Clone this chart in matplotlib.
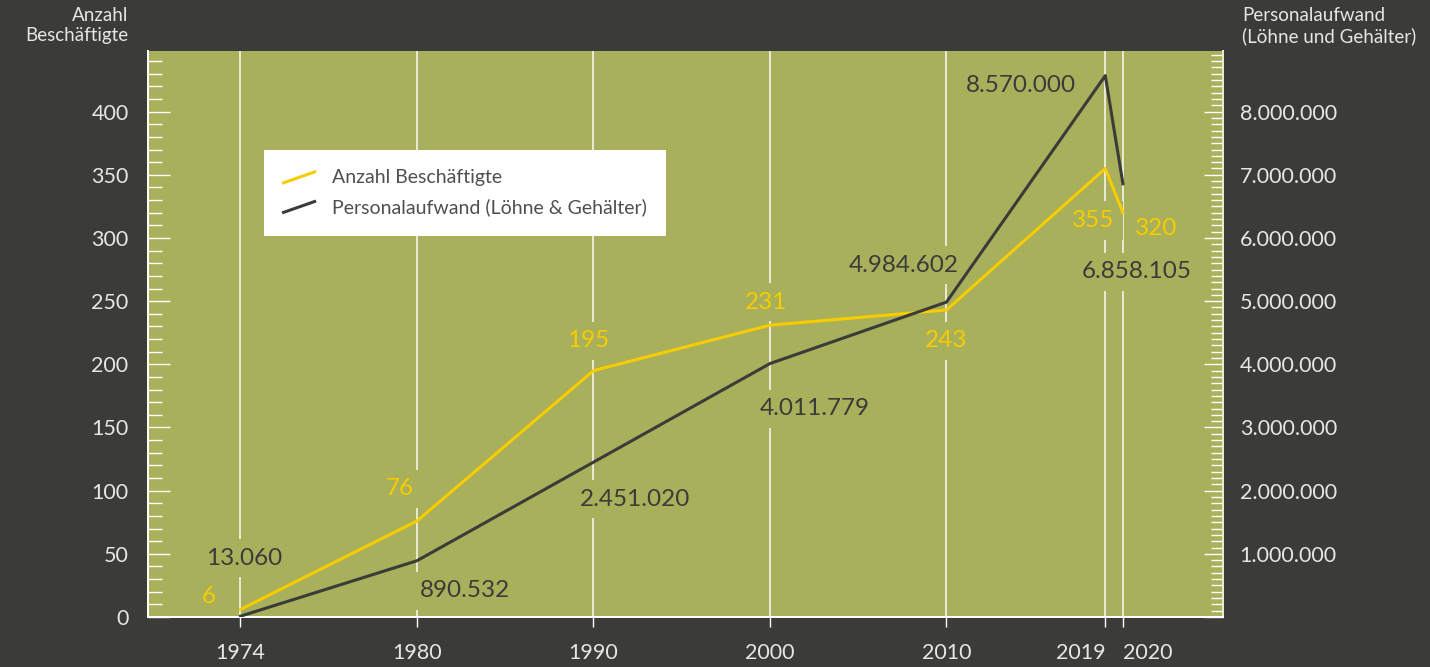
import matplotlib.pyplot as plt
from matplotlib.lines import Line2D
from matplotlib.legend_handler import HandlerLine2D
from matplotlib.ticker import MultipleLocator, FuncFormatter

# Data
years = [1974, 1980, 1990, 2000, 2010, 2019, 2020]
employees = [6, 76, 195, 231, 243, 355, 320]
personnel_cost = [13060, 890532, 2451020, 4011779, 4984602, 8570000, 6858105]

# 1974 sits one decade slot left of 1980 on the chart's time axis
x_pos = [1970, 1980, 1990, 2000, 2010, 2019, 2020]

# label offsets in pixels (dx, dy), hand placed like the original
emp_offsets = [(-32, 13), (-17, 32), (-5, 30), (-4, 23), (0, -31), (-12, -52), (33, -16)]
cost_offsets = [(4, 58), (48, -30), (42, -37), (45, -45), (-43, 37), (-84, -10), (14, -88)]

BG = "#3b3b39"
OLIVE = "#a8b05b"
YELLOW = "#f7cc00"
DARK = "#3b3b39"
LIGHT = "#e6e6e6"
SCALE = 20000  # right axis = left axis * SCALE

plt.rcParams["font.family"] = ["Lato", "DejaVu Sans"]


def de_num(v):
    return f"{int(v):,}".replace(",", ".")


class SlantedLine(HandlerLine2D):
    def create_artists(self, legend, orig_handle, xdescent, ydescent,
                       width, height, fontsize, trans):
        line = Line2D([0, width], [0.05 * height, 0.85 * height],
                      color=orig_handle.get_color(),
                      linewidth=orig_handle.get_linewidth())
        line.set_transform(trans)
        return [line]


fig = plt.figure(figsize=(14.3, 6.67), dpi=100, facecolor=BG)
ax = fig.add_axes([148 / 1430, 50 / 667, 1075 / 1430, 566 / 667])
ax.set_facecolor(OLIVE)
ax2 = ax.twinx()

ax.set_xlim(1964.76, 2025.67)
ax.set_ylim(0, 448)
ax2.set_ylim(0, 448 * SCALE)

# vertical grid lines
for xp in x_pos:
    ax.axvline(xp, color="white", lw=1.4, alpha=0.75, zorder=1)

# employees (left axis)
ax.plot(x_pos, employees, color=YELLOW, lw=2.2, zorder=4)
for xp, v, off in zip(x_pos, employees, emp_offsets):
    ax.annotate(str(v), (xp, v), xytext=off, textcoords="offset pixels",
                ha="center", va="center", fontsize=17.5, color=YELLOW, zorder=2,
                bbox=dict(boxstyle="square,pad=0.35", fc=OLIVE, ec="none"))

# personnel cost (right axis)
ax2.plot(x_pos, personnel_cost, color=DARK, lw=2.2, zorder=4)
for xp, v, off in zip(x_pos, personnel_cost, cost_offsets):
    ax2.annotate(de_num(v), (xp, v), xytext=off, textcoords="offset pixels",
                 ha="center", va="center", fontsize=17.5, color=DARK, zorder=2,
                 bbox=dict(boxstyle="square,pad=0.35", fc=OLIVE, ec="none"))

# x axis
ax.set_xticks(x_pos)
ax.set_xticklabels([str(y) for y in years])
ax.tick_params(axis="x", direction="out", length=7, width=1, color="white",
               labelsize=15.5, labelcolor=LIGHT, pad=12)
xlabels = ax.get_xticklabels()
xlabels[-2].set_horizontalalignment("right")
xlabels[-1].set_horizontalalignment("left")

# left y axis
ax.yaxis.set_major_locator(MultipleLocator(50))
ax.yaxis.set_minor_locator(MultipleLocator(10))
ax.tick_params(axis="y", which="major", direction="in", length=16, width=1,
               color="white", labelsize=15.5, labelcolor=LIGHT, pad=14)
ax.tick_params(axis="y", which="minor", direction="in", length=10, width=1,
               color="white")

# right y axis
ax2.yaxis.set_major_locator(MultipleLocator(1000000))
ax2.yaxis.set_minor_locator(MultipleLocator(100000))
ax2.yaxis.set_major_formatter(FuncFormatter(lambda v, p: de_num(v) if v > 0 else ""))
ax2.tick_params(axis="y", which="major", direction="in", length=14, width=1,
                color="white", labelsize=15.5, labelcolor=LIGHT, pad=12)
ax2.tick_params(axis="y", which="minor", direction="in", length=9, width=1,
                color="white")

for a in (ax, ax2):
    a.spines["top"].set_visible(False)
    a.spines["left"].set_color("white")
    a.spines["bottom"].set_color("white")
    a.spines["right"].set_color("#e8ebc8")
    for s in a.spines.values():
        s.set_linewidth(1.4)
ax2.patch.set_visible(False)

# legend
handles = [Line2D([], [], color=YELLOW, lw=2.2), Line2D([], [], color=DARK, lw=2.2)]
leg = ax2.legend(handles, ["Anzahl Beschäftigte", "Personalaufwand (Löhne & Gehälter)"],
                 loc="upper left", bbox_to_anchor=(0.108, 0.825), borderaxespad=0,
                 fontsize=14, frameon=True, fancybox=False, handlelength=1.6,
                 handletextpad=0.9, borderpad=1.0, labelspacing=0.6,
                 handler_map={Line2D: SlantedLine()})
leg.get_frame().set_facecolor("white")
leg.get_frame().set_edgecolor("none")
leg.get_frame().set_alpha(1)
for t in leg.get_texts():
    t.set_color("#4f4f4f")

# axis titles
fig.text(128 / 1430, 1 - 7 / 667, "Anzahl\nBeschäftigte", ha="right", va="top",
         fontsize=13.5, color=LIGHT, linespacing=1.2)
fig.text(1242 / 1430, 1 - 7 / 667, "Personalaufwand\n(Löhne und Gehälter)", ha="left",
         va="top", fontsize=13.5, color=LIGHT, linespacing=1.2)

fig.savefig("out.png", dpi=100, facecolor=BG)
